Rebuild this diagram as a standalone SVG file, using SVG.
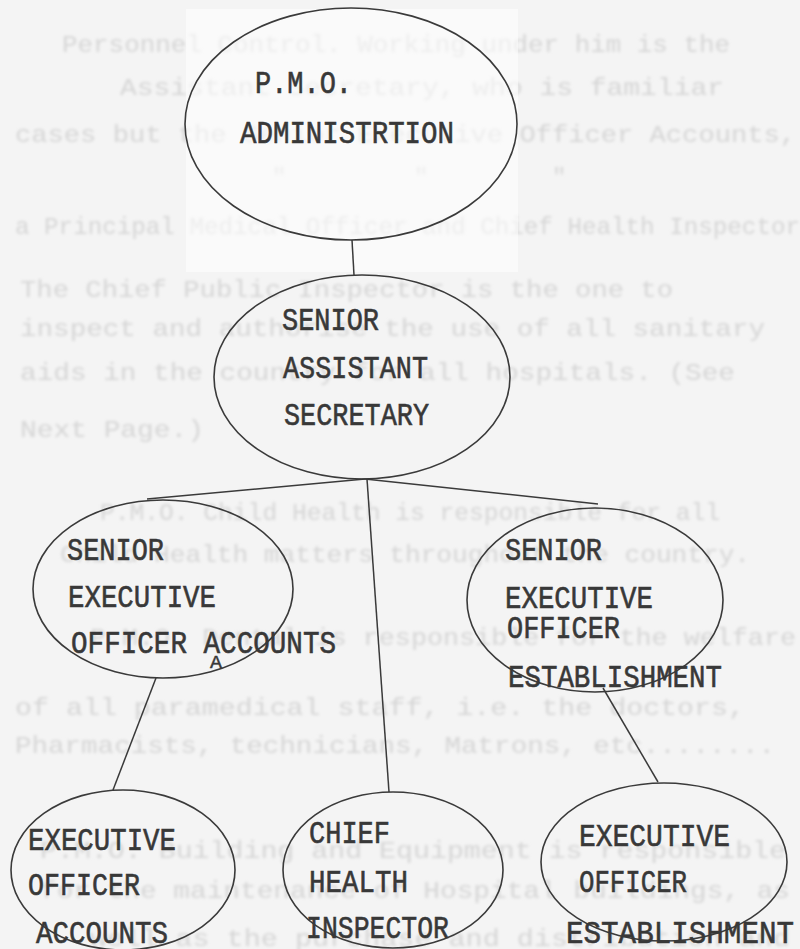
<svg xmlns="http://www.w3.org/2000/svg" width="800" height="949" viewBox="0 0 800 949">
<defs>
<filter id="blur" filterUnits="userSpaceOnUse" x="0" y="0" width="800" height="949"><feGaussianBlur stdDeviation="1.6"/></filter>
<style>
.bg{font-family:"Liberation Mono","DejaVu Sans Mono",monospace;font-size:24px;fill:#d5d5d5;}
.t{font-family:"Liberation Mono","DejaVu Sans Mono",monospace;font-size:32px;fill:#383838;stroke:#383838;stroke-width:0.6;}
.n{fill:none;stroke:#3a3a3a;stroke-width:1.6;}
.c{fill:none;stroke:#3a3a3a;stroke-width:1.5;}
</style>
</defs>
<rect x="0" y="0" width="800" height="949" fill="#f4f4f4"/>
<g id="backtext" filter="url(#blur)">
<text class="bg" x="62" y="52" textLength="668" lengthAdjust="spacingAndGlyphs">Personnel Control. Working under him is the</text>
<text class="bg" x="120" y="95" textLength="604" lengthAdjust="spacingAndGlyphs">Assistant Secretary, who is familiar</text>
<text class="bg" x="15" y="142" textLength="781" lengthAdjust="spacingAndGlyphs">cases but the Senior Executive Officer Accounts,</text>
<text class="bg" x="272" y="185">"</text>
<text class="bg" x="414" y="185">"</text>
<text class="bg" x="552" y="185">"</text>
<text class="bg" x="15" y="234" textLength="785" lengthAdjust="spacingAndGlyphs">a Principal Medical Officer and Chief Health Inspector</text>
<text class="bg" x="20" y="297" textLength="653" lengthAdjust="spacingAndGlyphs">The Chief Public Inspector is the one to</text>
<text class="bg" x="20" y="336" textLength="745" lengthAdjust="spacingAndGlyphs">inspect and authorise the use of all sanitary</text>
<text class="bg" x="20" y="380" textLength="715" lengthAdjust="spacingAndGlyphs">aids in the country for all hospitals. (See</text>
<text class="bg" x="20" y="437" textLength="184" lengthAdjust="spacingAndGlyphs">Next Page.)</text>
<text class="bg" x="100" y="520" textLength="620" lengthAdjust="spacingAndGlyphs">P.M.O. Child Health is responsible for all</text>
<text class="bg" x="60" y="562" textLength="690" lengthAdjust="spacingAndGlyphs">Child Health matters throughout the country.</text>
<text class="bg" x="90" y="645" textLength="706" lengthAdjust="spacingAndGlyphs">P.M.O. Dental is responsible for the welfare</text>
<text class="bg" x="15" y="715" textLength="730" lengthAdjust="spacingAndGlyphs">of all paramedical staff, i.e. the doctors,</text>
<text class="bg" x="15" y="753" textLength="760" lengthAdjust="spacingAndGlyphs">Pharmacists, technicians, Matrons, etc........</text>
<text class="bg" x="40" y="858" textLength="746" lengthAdjust="spacingAndGlyphs">P.M.O. Building and Equipment is responsible</text>
<text class="bg" x="40" y="898" textLength="750" lengthAdjust="spacingAndGlyphs">for the maintenance of Hospital buildings, as</text>
<text class="bg" x="90" y="946" textLength="700" lengthAdjust="spacingAndGlyphs">well as the purchase and distribution and</text>
</g>
<rect x="186" y="9" width="332" height="263" fill="#fdfdfd" opacity="0.6"/>
<g id="connectors">
<path class="c" d="M352 240 L354 275"/>
<path class="c" d="M365 479 L147 499"/>
<path class="c" d="M365 479 L598 504"/>
<path class="c" d="M367 479 L389 792"/>
<path class="c" d="M156 678 L113 790"/>
<path class="c" d="M603 688 L658 782"/>
</g>
<g id="pmo-admin">
<ellipse class="n" cx="351" cy="124" rx="166" ry="116"/>
<text class="t" x="255" y="93" textLength="97" lengthAdjust="spacingAndGlyphs">P.M.O.</text>
<text class="t" x="240" y="143" textLength="214" lengthAdjust="spacingAndGlyphs">ADMINISTRTION</text>
</g>
<g id="senior-assistant-secretary">
<ellipse class="n" cx="362" cy="377" rx="148" ry="102"/>
<text class="t" x="282" y="330" textLength="97" lengthAdjust="spacingAndGlyphs">SENIOR</text>
<text class="t" x="283" y="378" textLength="145" lengthAdjust="spacingAndGlyphs">ASSISTANT</text>
<text class="t" x="284" y="425" textLength="145" lengthAdjust="spacingAndGlyphs">SECRETARY</text>
</g>
<g id="seo-accounts">
<ellipse class="n" cx="163" cy="589" rx="130" ry="89"/>
<text class="t" x="67" y="560" textLength="97" lengthAdjust="spacingAndGlyphs">SENIOR</text>
<text class="t" x="68" y="607" textLength="148" lengthAdjust="spacingAndGlyphs">EXECUTIVE</text>
<text class="t" x="71" y="653" textLength="265" lengthAdjust="spacingAndGlyphs">OFFICER ACCOUNTS</text>
<text class="t" x="210" y="668" style="font-size:18px;stroke-width:0.4" textLength="12" lengthAdjust="spacingAndGlyphs">A</text>
</g>
<g id="seo-establishment">
<ellipse class="n" cx="595" cy="600" rx="128" ry="92"/>
<text class="t" x="505" y="560" textLength="97" lengthAdjust="spacingAndGlyphs">SENIOR</text>
<text class="t" x="505" y="608" textLength="148" lengthAdjust="spacingAndGlyphs">EXECUTIVE</text>
<text class="t" x="507" y="638" textLength="113" lengthAdjust="spacingAndGlyphs">OFFICER</text>
<text class="t" x="508" y="687" textLength="214" lengthAdjust="spacingAndGlyphs">ESTABLISHMENT</text>
</g>
<g id="eo-accounts">
<ellipse class="n" cx="123" cy="870" rx="112" ry="80"/>
<text class="t" x="28" y="850" textLength="148" lengthAdjust="spacingAndGlyphs">EXECUTIVE</text>
<text class="t" x="28" y="895" textLength="112" lengthAdjust="spacingAndGlyphs">OFFICER</text>
<text class="t" x="36" y="943" textLength="132" lengthAdjust="spacingAndGlyphs">ACCOUNTS</text>
</g>
<g id="chief-health-inspector">
<ellipse class="n" cx="393" cy="870" rx="110" ry="78"/>
<text class="t" x="309" y="843" textLength="81" lengthAdjust="spacingAndGlyphs">CHIEF</text>
<text class="t" x="309" y="892" textLength="99" lengthAdjust="spacingAndGlyphs">HEALTH</text>
<text class="t" x="306" y="938" textLength="143" lengthAdjust="spacingAndGlyphs">INSPECTOR</text>
</g>
<g id="eo-establishment">
<ellipse class="n" cx="664" cy="862" rx="123" ry="79"/>
<text class="t" x="579" y="846" textLength="151" lengthAdjust="spacingAndGlyphs">EXECUTIVE</text>
<text class="t" x="579" y="892" textLength="108" lengthAdjust="spacingAndGlyphs">OFFICER</text>
<text class="t" x="566" y="943" textLength="228" lengthAdjust="spacingAndGlyphs">ESTABLISHMENT</text>
</g>
</svg>
